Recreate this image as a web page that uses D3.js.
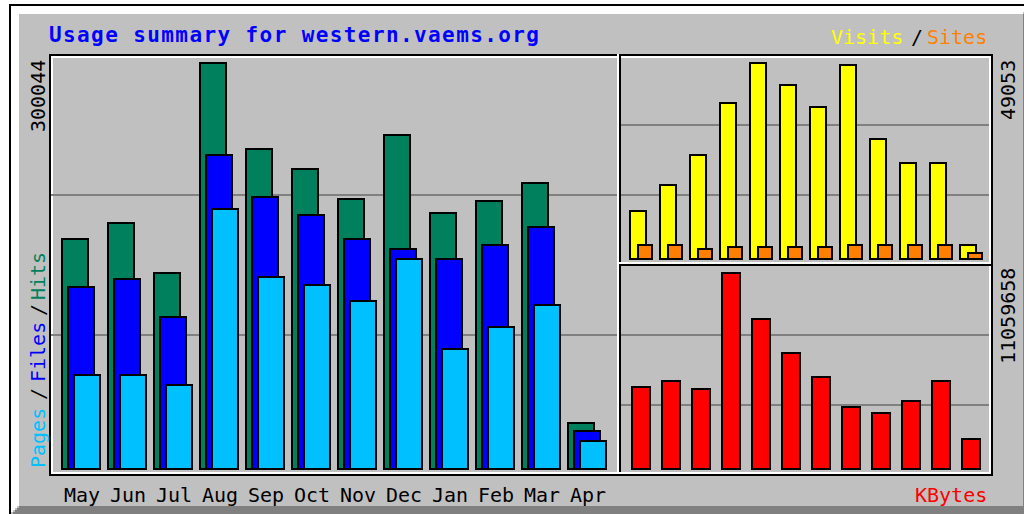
<!DOCTYPE html>
<html>
<head>
<meta charset="utf-8">
<title>Usage summary for western.vaems.org</title>
<script src="https://cdn.jsdelivr.net/npm/d3@7"></script>
<style>
  html, body { margin: 0; padding: 0; background: #fff; }
  svg { display: block; }
  text { font-family: "DejaVu Sans Mono", monospace; }
</style>
</head>
<body>
<svg id="chart" width="1024" height="514"></svg>
<script>
  // monthly usage
  var months = ['May', 'Jun', 'Jul', 'Aug', 'Sep', 'Oct', 'Nov', 'Dec', 'Jan', 'Feb', 'Mar', 'Apr'];
  var hits   = [169980, 181800, 144850, 300044, 236490, 221710, 199540, 246840, 189190, 198060, 211360, 34000];
  var files  = [134500, 140410, 112330, 231320, 200280, 188450, 169980, 162590, 155200, 165540, 178840, 28080];
  var pages  = [69470, 69470, 62080, 192150, 141890, 135980, 124160, 155200, 88680, 104940, 121200, 20690];
  var visits = [12013, 18520, 26028, 39042, 49053, 43547, 38041, 48552, 30032, 24026, 24026, 3504];
  var sites  = [3504, 3504, 2503, 3003, 3003, 3003, 3003, 3504, 3504, 3504, 3504, 1502];
  var kbytes = [4627000, 4965600, 4514100, 11059658, 8464000, 6545500, 5191200, 3498400, 3159900, 3837000, 4965600, 1692800];

  var c = {
    grey: '#c0c0c0', dkgrey: '#808080', black: '#000', white: '#fff', blue: '#0000ff',
    hits: '#00805c', files: '#0000ff', pages: '#00c0ff',
    visits: '#ffff00', sites: '#ff8000', kbytes: '#ff0000'
  };

  // the graph is laid out on a 512x256 grid and drawn at 2x
  var W = 512, H = 256;
  var svg = d3.select('#chart');
  var g = svg.append('g')
      .attr('transform', 'translate(9,4) scale(2)')
      .attr('shape-rendering', 'crispEdges');

  function hline(x1, x2, y, col) {
    g.append('line').attr('x1', x1).attr('x2', x2 + 1)
      .attr('y1', y + 0.5).attr('y2', y + 0.5)
      .attr('stroke', col).attr('stroke-width', 1);
  }
  function vline(x, y1, y2, col) {
    g.append('line').attr('x1', x + 0.5).attr('x2', x + 0.5)
      .attr('y1', y1).attr('y2', y2 + 1)
      .attr('stroke', col).attr('stroke-width', 1);
  }
  function box(x1, y1, x2, y2, col) {
    g.append('rect').attr('x', x1 + 0.5).attr('y', y1 + 0.5)
      .attr('width', x2 - x1).attr('height', y2 - y1)
      .attr('fill', 'none').attr('stroke', col).attr('stroke-width', 1);
  }
  function label(x, y, str, col, size, weight) {
    return g.append('text').attr('x', x).attr('y', y)
      .attr('fill', col).attr('font-size', size || 10)
      .attr('font-weight', weight || 'normal').text(str);
  }
  function upLabel(x, y, str, col) {
    return g.append('text')
      .attr('transform', 'translate(' + x + ',' + y + ') rotate(-90)')
      .attr('fill', col).attr('font-size', 10).text(str);
  }

  // background and 3d border
  g.append('rect').attr('width', W).attr('height', H).attr('fill', c.grey);
  box(0, 0, W - 1, H - 1, c.black);
  for (var i = 1; i < 5; i++) {
    hline(i, W - i - 2, i, c.white);
    vline(i, i, H - i - 2, c.white);
    hline(i + 1, W - i - 1, H - i - 1, c.dkgrey);
    vline(W - i - 1, i + 1, H - i - 1, c.dkgrey);
  }

  // title
  label(20, 19, 'Usage summary for western.vaems.org', c.blue, 10.5, 'bold')
    .attr('textLength', 245).attr('lengthAdjust', 'spacing');

  // chart outline and section lines
  box(20, 25, W - 21, H - 21, c.black);
  box(21, 26, W - 22, H - 22, c.white);
  vline(305, 25, 233, c.black);
  vline(304, 25, 233, c.white);
  hline(305, 490, 130, c.black);
  hline(305, 490, 129, c.white);

  // index lines
  [95, 165].forEach(function(y) { hline(21, 303, y, c.dkgrey); });
  [60, 95, 165, 200].forEach(function(y) { hline(306, 489, y, c.dkgrey); });

  // scales
  var xMain = d3.scaleBand().domain(months).range([26, 26 + 12 * 23]);
  var xSide = d3.scaleBand().domain(months).range([310, 310 + 12 * 15]);
  var yMain = d3.scaleLinear().domain([0, d3.max(hits)]).range([232, 29]);
  var yVis  = d3.scaleLinear().domain([0, d3.max(visits)]).range([127, 29]);
  var yKb   = d3.scaleLinear().domain([0, d3.max(kbytes)]).range([232, 134]);

  function bars(data, x, off, w, y, base, col) {
    g.append('g').selectAll('rect').data(data).join('rect')
      .attr('x', function(d, i) { return x(months[i]) + off + 0.5; })
      .attr('y', function(d) { return Math.round(y(d)) + 0.5; })
      .attr('width', w)
      .attr('height', function(d) { return base - Math.round(y(d)); })
      .attr('fill', col).attr('stroke', c.black).attr('stroke-width', 1);
  }

  bars(hits, xMain, 0, 13, yMain, 232, c.hits);
  bars(files, xMain, 3, 13, yMain, 232, c.files);
  bars(pages, xMain, 6, 13, yMain, 232, c.pages);
  bars(visits, xSide, 0, 8, yVis, 127, c.visits);
  bars(sites, xSide, 4, 7, yVis, 127, c.sites);
  bars(kbytes, xSide, 1, 9, yKb, 232, c.kbytes);

  // month labels
  g.append('g').selectAll('text').data(months).join('text')
    .attr('x', function(d) { return xMain(d) + 1.5; })
    .attr('y', 249)
    .attr('font-size', 10).attr('fill', c.black)
    .text(function(d) { return d; });

  // maxima
  var fmt = d3.format('d');
  var vmax = [
    [18, fmt(d3.max(hits))],
    [503, fmt(d3.max(visits))]
  ];
  vmax.forEach(function(m) { upLabel(m[0], 28 + m[1].length * 6, m[1], c.black); });
  var kmax = fmt(d3.max(kbytes));
  upLabel(503, 132 + kmax.length * 6, kmax, c.black);

  // legends
  upLabel(18, 232, 'Pages', c.pages);
  upLabel(18, 198, '/', c.black);
  upLabel(18, 189, 'Files', c.files);
  upLabel(18, 156, '/', c.black);
  upLabel(18, 148, 'Hits', c.hits);

  label(411, 20, 'Visits', c.visits);
  label(451, 20, '/', c.black);
  label(459, 20, 'Sites', c.sites);
  label(453, 249, 'KBytes', c.kbytes);
</script>
</body>
</html>
